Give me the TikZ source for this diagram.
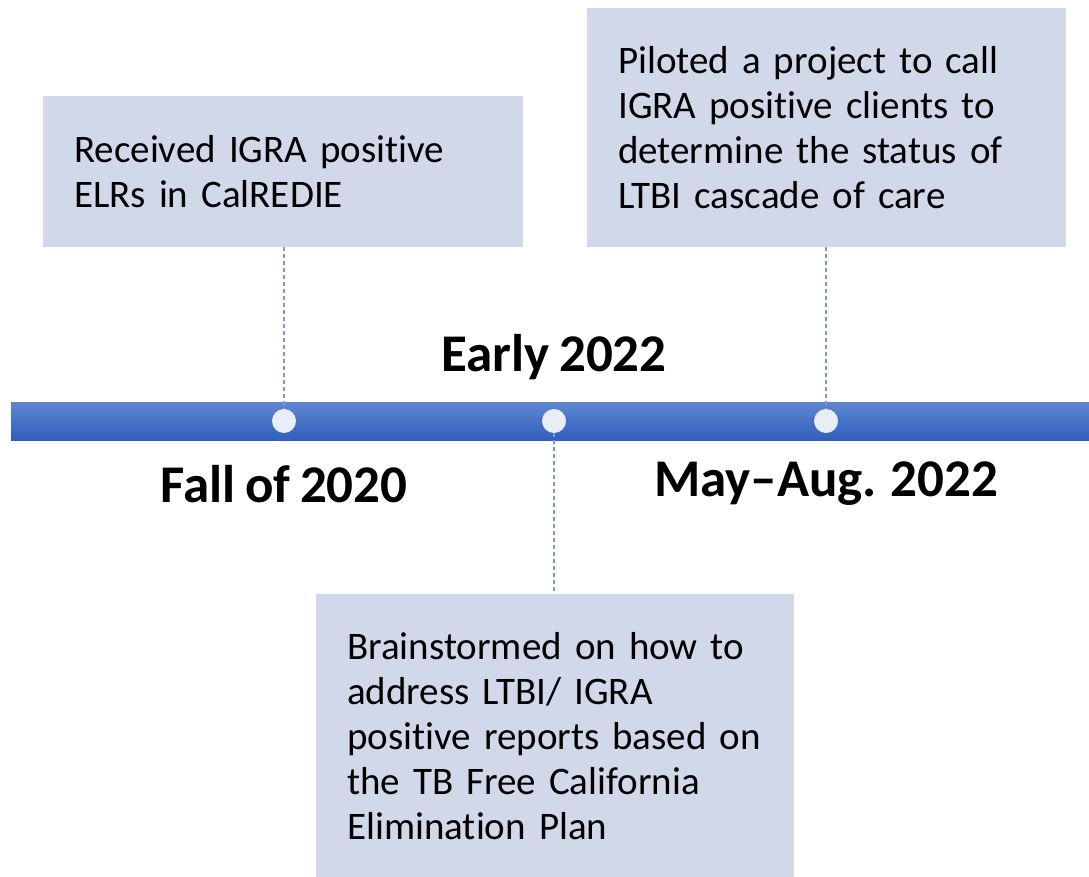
\documentclass[tikz,border=0pt]{standalone}
\usepackage{fontspec}
\setmainfont[WordSpace={0.8,0,0},Ligatures=NoCommon]{Carlito}
\definecolor{boxfill}{RGB}{208,216,234}
\definecolor{bartop}{RGB}{96,134,207}
\definecolor{barbot}{RGB}{47,96,189}
\definecolor{dotfill}{RGB}{233,237,246}
\definecolor{dashcol}{RGB}{122,152,218}
\tikzset{
  evbox/.style={fill=boxfill, draw=none, anchor=north west, align=left,
    inner xsep=31pt, inner ysep=0pt, font=\fontsize{39}{45}\selectfont},
  dotnode/.style={circle, fill=dotfill, draw=none, minimum size=24pt, inner sep=0pt},
  datelbl/.style={font=\fontsize{53}{60}\selectfont\bfseries, inner sep=0pt},
  guide/.style={dashcol, line width=1.4pt, dash pattern=on 4pt off 3pt}
}
\begin{document}
\begin{tikzpicture}[x=1pt,y=-1pt]
\useasboundingbox (0,0) rectangle (1089,877);
% timeline bar
\shade[top color=bartop, bottom color=barbot] (11,402) rectangle (1089,440);
\node[dotnode] (d1) at (284,421) {};
\node[dotnode] (d2) at (554,421) {};
\node[dotnode] (d3) at (826,421) {};
% boxes
\node[evbox, text width=418pt, minimum height=151pt] (b1) at (43,96)
  {Received IGRA positive\\ELRs in CalREDIE};
\node[evbox, text width=417pt, minimum height=239pt] (b2) at (587,8)
  {Piloted a project to call\\IGRA positive clients to\\determine the status of\\LTBI cascade of care};
\node[evbox, text width=416pt, minimum height=283pt] (b3) at (316,594)
  {Brainstormed on how to\\address LTBI/ IGRA\\positive reports based on\\the TB Free California\\Elimination Plan};
% guides
\coordinate (g1) at (284,247);
\coordinate (g2) at (826,247);
\coordinate (g3) at (554,594);
\draw[guide] (g1) -- (d1.north);
\draw[guide] (g2) -- (d3.north);
\draw[guide] (d2.south) -- (g3);
% date labels
\node[datelbl] (l2) at (554,357) {Early 2022};
\node[datelbl] (l1) at (284,484) {Fall of 2020};
\node[datelbl] (l3) at (826,484) {May–Aug. 2022};
\end{tikzpicture}
\end{document}
